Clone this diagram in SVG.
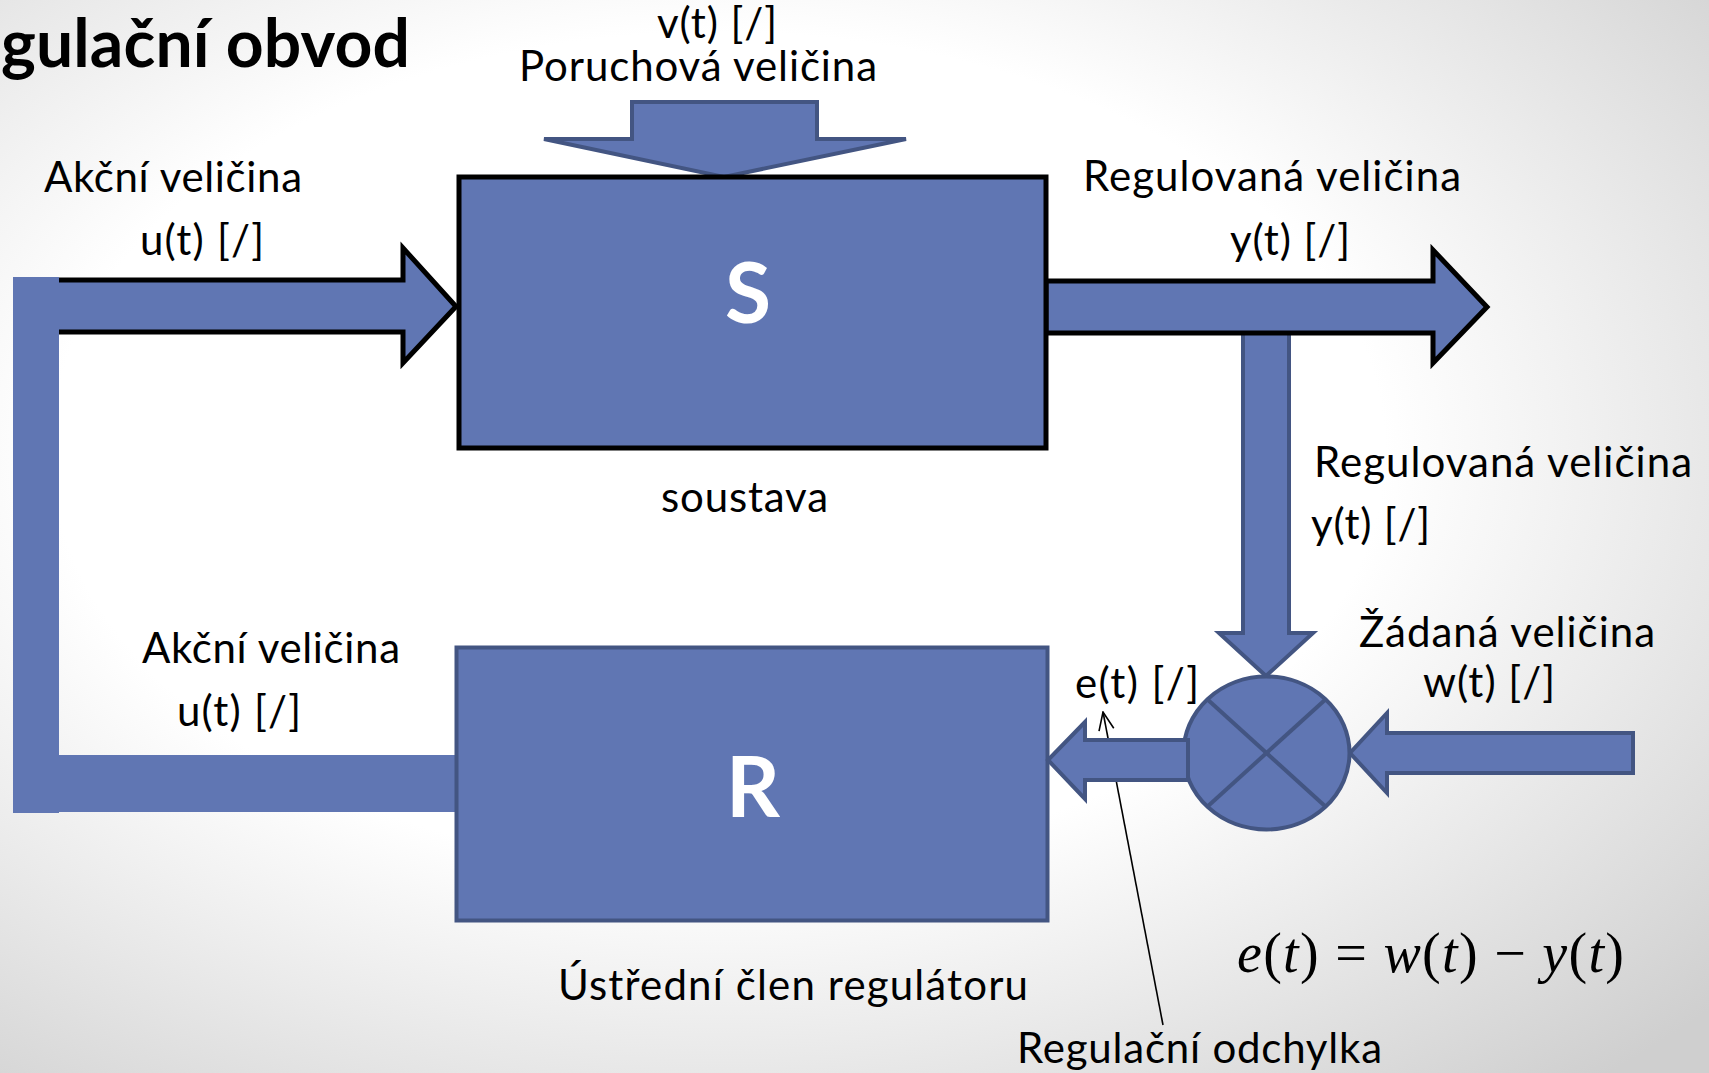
<svg xmlns="http://www.w3.org/2000/svg" width="1709" height="1073" viewBox="0 0 1709 1073">
  <defs>
    <radialGradient id="bg" cx="0.42" cy="0.42" r="0.78">
      <stop offset="0" stop-color="#ffffff"/>
      <stop offset="0.5" stop-color="#ffffff"/>
      <stop offset="1" stop-color="#cfcfcf"/>
    </radialGradient>
    <marker id="open" viewBox="0 0 20 20" refX="19" refY="10" markerWidth="20" markerHeight="20" markerUnits="userSpaceOnUse" orient="auto">
      <path d="M1,2.5 L19,10 L1,17.5" fill="none" stroke="#000" stroke-width="1.6"/>
    </marker>
    <style>
      .lbl { font-family: Lato, "Liberation Sans", sans-serif; font-size: 42px; fill: #000; }
      .big { font-family: Lato, "Liberation Sans", sans-serif; font-weight: bold; font-size: 84px; fill: #fff; text-anchor: middle; }
      .title { font-family: Lato, "Liberation Sans", sans-serif; font-weight: bold; font-size: 66px; fill: #000; }
      .math { font-family: "Liberation Serif", serif; font-size: 56px; fill: #000; }
      .blk { fill: #6076b3; stroke: #000; stroke-width: 5; stroke-linejoin: miter; }
      .blu { fill: #6076b3; stroke: #435582; stroke-width: 4; stroke-linejoin: miter; }
      .flat { fill: #6076b3; stroke: none; }
      .ln { fill: none; stroke: #435582; stroke-width: 4; }
    </style>
  </defs>

  <rect x="0" y="0" width="1709" height="1073" fill="url(#bg)"/>

  <text class="title" x="1" y="67" textLength="409">gulační obvod</text>

  <g id="connectors">
    <!-- disturbance v(t) -->
    <polygon class="blu" points="632,102 817,102 817,139 906,139 724,177 544,139 632,139"/>
    <!-- u(t) into S -->
    <polygon class="blk" points="40,280 403,280 403,248 456,306.5 403,363 403,332 40,332"/>
    <!-- feedback vertical bar and lower bar -->
    <rect class="flat" x="13" y="277" width="46" height="536"/>
    <rect class="flat" x="58" y="755" width="400" height="57"/>
    <!-- y branch down to sum -->
    <polygon class="blu" points="1243,320 1289,320 1289,633 1313,633 1266,676 1219,633 1243,633"/>
    <!-- y(t) output -->
    <polygon class="blk" points="1046,281 1433,281 1433,250 1487,307 1433,363 1433,333 1046,333"/>
    <!-- w(t) into sum -->
    <polygon class="blu" points="1633,733 1387,733 1387,713 1350,753 1387,793 1387,773 1633,773"/>
    <!-- leader for e(t) -->
    <line x1="1163" y1="1025" x2="1103" y2="712" stroke="#000" stroke-width="1.6" marker-end="url(#open)"/>
  </g>

  <g id="node-S">
    <rect class="blk" x="459" y="177" width="587" height="271"/>
    <text class="big" x="748" y="323">S</text>
  </g>

  <g id="node-R">
    <rect class="blu" x="456.5" y="647.5" width="591" height="273"/>
    <text class="big" x="753" y="817">R</text>
  </g>

  <g id="node-sum">
    <ellipse class="blu" cx="1266.5" cy="753" rx="83" ry="76.5"/>
    <line class="ln" x1="1207" y1="699" x2="1326" y2="807"/>
    <line class="ln" x1="1326" y1="699" x2="1207" y2="807"/>
  </g>

  <g id="connector-e">
    <polygon class="blu" points="1188,740 1085,740 1085,722 1048,760 1085,799 1085,780 1188,780"/>
  </g>

  <g id="labels">
    <text class="lbl" x="657" y="38" textLength="120">v(t) [/]</text>
    <text class="lbl" x="519" y="81" textLength="358">Poruchová veličina</text>
    <text class="lbl" x="44" y="192" textLength="258">Akční veličina</text>
    <text class="lbl" x="140" y="255" textLength="124">u(t) [/]</text>
    <text class="lbl" x="1083" y="191" textLength="378">Regulovaná veličina</text>
    <text class="lbl" x="1230" y="255" textLength="120">y(t) [/]</text>
    <text class="lbl" x="661" y="512" textLength="167">soustava</text>
    <text class="lbl" x="1314" y="477" textLength="378">Regulovaná veličina</text>
    <text class="lbl" x="1311" y="539" textLength="119">y(t) [/]</text>
    <text class="lbl" x="142" y="663" textLength="258">Akční veličina</text>
    <text class="lbl" x="177" y="726" textLength="124">u(t) [/]</text>
    <text class="lbl" x="1359" y="647" textLength="296">Žádaná veličina</text>
    <text class="lbl" x="1423" y="697" textLength="132">w(t) [/]</text>
    <text class="lbl" x="1075" y="698" textLength="124">e(t) [/]</text>
    <text class="lbl" x="558" y="1000" textLength="470">Ústřední člen regulátoru</text>
    <text class="lbl" x="1017" y="1063" textLength="365">Regulační odchylka</text>
    <text class="math" x="1237" y="972" textLength="387"><tspan font-style="italic">e</tspan>(<tspan font-style="italic">t</tspan>) = <tspan font-style="italic">w</tspan>(<tspan font-style="italic">t</tspan>) − <tspan font-style="italic">y</tspan>(<tspan font-style="italic">t</tspan>)</text>
  </g>
</svg>
